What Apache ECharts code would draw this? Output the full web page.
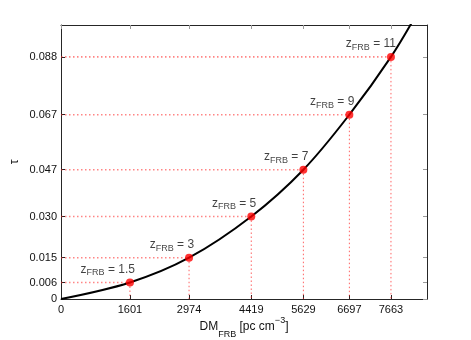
<!DOCTYPE html>
<html>
<head>
<meta charset="utf-8">
<script src="https://cdn.jsdelivr.net/npm/echarts@6/dist/echarts.min.js"></script>
<style>
  html, body { margin: 0; padding: 0; background: #fff; }
  #chart { width: 471px; height: 340px; }
</style>
</head>
<body>
<div id="chart"></div>
<script>
// redshift marks
var zLabels = ["1.5", "3", "5", "7", "9", "11"];
var dmValues = [1601, 2974, 4419, 5629, 6697, 7663];
var tauValues = [0.006, 0.015, 0.030, 0.047, 0.067, 0.088];

// curve (runs out of the top of the box)
var curveX = [0, 1601, 2974, 4419, 5629, 6697, 7663, 8300];
var curveY = [0, 0.006, 0.015, 0.030, 0.047, 0.067, 0.088, 0.1047];

var xTicks = [0, 1601, 2974, 4419, 5629, 6697, 7663];
var yTicks = [0, 0.006, 0.015, 0.030, 0.047, 0.067, 0.088];
var yTickLabels = ["0", "0.006", "0.015", "0.030", "0.047", "0.067", "0.088"];

var axisColor = "#262626";
var dotColor = "#ff2020";
var font = "Liberation Sans";

var myChart = echarts.init(document.getElementById("chart"));

// dotted guides: from the y axis over to the point, then down to the x axis
var guideSeries = [];
dmValues.forEach(function (x, i) {
  guideSeries.push({
    type: "line",
    data: [[0, tauValues[i]], [x, tauValues[i]]],
    symbol: "none",
    silent: true,
    lineStyle: { color: dotColor, type: [1.5, 2.5], width: 1.6, opacity: 0.55 },
    z: 1
  });
  guideSeries.push({
    type: "line",
    data: [[x, tauValues[i]], [x, 0]],
    symbol: "none",
    silent: true,
    lineStyle: { color: dotColor, type: [1.5, 2.5], width: 1, opacity: 0.7 },
    z: 1
  });
});

var richLabel = {
  a: { fontSize: 12, color: "#111", fontFamily: font, verticalAlign: "top", lineHeight: 14 },
  s: { fontSize: 9, color: "#111", fontFamily: font, verticalAlign: "bottom", lineHeight: 9 }
};

var option = {
  animation: false,
  grid: { left: 61, right: 44, top: 25, bottom: 41, outerBoundsMode: "none", containLabel: false },
  xAxis: [
    {
      type: "value", min: 0, max: 8500,
      axisLine: { onZero: false, lineStyle: { color: axisColor, width: 1 } },
      axisTick: { inside: true, length: 4, customValues: xTicks, lineStyle: { color: axisColor } },
      axisLabel: {
        customValues: xTicks, color: "#111", fontSize: 11, fontFamily: font, margin: 5,
        formatter: function (v) { return String(v); }
      },
      splitLine: { show: false },
      name: "DM{s|FRB} [pc cm{p|\u22123}]",
      nameLocation: "middle",
      nameMoveOverlap: false,
      nameGap: 22,
      nameTextStyle: {
        fontSize: 12, color: "#111", fontFamily: font,
        rich: {
          s: { fontSize: 9, fontFamily: font, color: "#111", verticalAlign: "bottom", lineHeight: 8, padding: [0, 0, -6, 0] },
          p: { fontSize: 9, fontFamily: font, color: "#111", verticalAlign: "top", padding: [-5, 0, 0, 0] }
        }
      }
    },
    {
      type: "value", min: 0, max: 8500, position: "top",
      axisLine: { show: true, onZero: false, lineStyle: { color: axisColor, width: 1 } },
      axisTick: { show: true, inside: true, length: 4, customValues: xTicks, lineStyle: { color: "#999" } },
      axisLabel: { show: false },
      splitLine: { show: false }
    }
  ],
  yAxis: [
    {
      type: "value", min: 0, max: 0.0996,
      axisLine: { show: true, onZero: false, lineStyle: { color: axisColor, width: 1 } },
      axisTick: { show: true, inside: true, length: 4, customValues: yTicks, lineStyle: { color: axisColor } },
      axisLabel: {
        customValues: yTicks, color: "#111", fontSize: 11, fontFamily: font, margin: 4,
        formatter: function (v) {
          var i = yTicks.indexOf(v);
          return i >= 0 ? yTickLabels[i] : "";
        }
      },
      splitLine: { show: false },
      name: "\u03c4",
      nameLocation: "middle",
      nameMoveOverlap: false,
      nameGap: 40,
      nameTextStyle: { fontSize: 12, color: "#111", fontFamily: font }
    },
    {
      type: "value", min: 0, max: 0.0996, position: "right",
      axisLine: { show: true, onZero: false, lineStyle: { color: axisColor, width: 1 } },
      axisTick: { show: true, inside: true, length: 4, customValues: yTicks, lineStyle: { color: "#999" } },
      axisLabel: { show: false },
      splitLine: { show: false }
    }
  ],
  series: guideSeries.concat([
    {
      type: "line",
      data: curveX.map(function (x, i) { return [x, curveY[i]]; }),
      smooth: 0.35,
      symbol: "none",
      lineStyle: { color: "#000", width: 2 },
      clip: true,
      z: 3
    },
    {
      type: "scatter",
      data: dmValues.map(function (x, i) { return [x, tauValues[i]]; }),
      symbolSize: 8,
      itemStyle: { color: "#ff0000" },
      z: 5,
      label: {
        show: true,
        position: [9, -1],
        align: "right",
        verticalAlign: "bottom",
        formatter: function (p) {
          return "{a|z}{s|FRB}{a| = " + zLabels[p.dataIndex] + "}";
        },
        rich: richLabel
      }
    }
  ])
};

myChart.setOption(option);
</script>
</body>
</html>
